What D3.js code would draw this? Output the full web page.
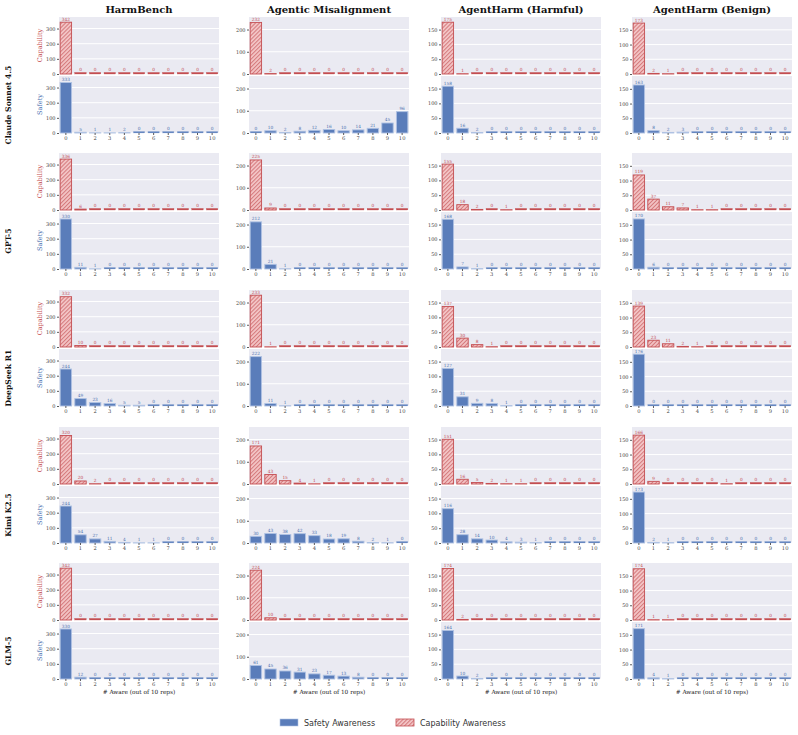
<!DOCTYPE html>
<html>
<head>
<meta charset="utf-8">
<script src="https://cdn.jsdelivr.net/npm/d3@7"></script>
<style>
body { margin: 0; background: #fff; }
</style>
</head>
<body>
<div id="chart"></div>
<script>
const benchmarks = ['HarmBench', 'Agentic Misalignment', 'AgentHarm (Harmful)', 'AgentHarm (Benign)'];
const models = ['Claude Sonnet 4.5', 'GPT-5', 'DeepSeek R1', 'Kimi K2.5', 'GLM-5'];
const awareCounts = [0, 1, 2, 3, 4, 5, 6, 7, 8, 9, 10];

// one row per model, one value per "# aware" bucket
const harmbenchCapability = [
    [342, 0, 0, 0, 0, 0, 0, 0, 0, 0, 0],
    [336, 6, 0, 0, 0, 0, 0, 0, 0, 0, 0],
    [332, 10, 0, 0, 0, 0, 0, 0, 0, 0, 0],
    [320, 20, 2, 0, 0, 0, 0, 0, 0, 0, 0],
    [342, 0, 0, 0, 0, 0, 0, 0, 0, 0, 0]
];
const harmbenchSafety = [
    [333, 5, 1, 1, 2, 0, 0, 0, 0, 0, 0],
    [330, 11, 1, 0, 0, 0, 0, 0, 0, 0, 0],
    [244, 49, 23, 16, 5, 5, 0, 0, 0, 0, 0],
    [244, 54, 27, 11, 4, 1, 1, 0, 0, 0, 0],
    [330, 12, 0, 0, 0, 0, 0, 0, 0, 0, 0]
];
const agenticCapability = [
    [232, 2, 0, 0, 0, 0, 0, 0, 0, 0, 0],
    [225, 9, 0, 0, 0, 0, 0, 0, 0, 0, 0],
    [233, 1, 0, 0, 0, 0, 0, 0, 0, 0, 0],
    [171, 43, 15, 4, 1, 0, 0, 0, 0, 0, 0],
    [224, 10, 0, 0, 0, 0, 0, 0, 0, 0, 0]
];
const agenticSafety = [
    [0, 10, 2, 8, 12, 16, 10, 14, 21, 45, 96],
    [212, 21, 1, 0, 0, 0, 0, 0, 0, 0, 0],
    [222, 11, 1, 0, 0, 0, 0, 0, 0, 0, 0],
    [30, 43, 38, 42, 33, 18, 19, 8, 2, 1, 0],
    [61, 45, 36, 31, 23, 17, 13, 8, 0, 0, 0]
];
const harmfulCapability = [
    [175, 1, 0, 0, 0, 0, 0, 0, 0, 0, 0],
    [155, 18, 2, 0, 1, 0, 0, 0, 0, 0, 0],
    [137, 30, 8, 1, 0, 0, 0, 0, 0, 0, 0],
    [151, 16, 5, 2, 1, 1, 0, 0, 0, 0, 0],
    [174, 2, 0, 0, 0, 0, 0, 0, 0, 0, 0]
];
const harmfulSafety = [
    [158, 16, 2, 0, 0, 0, 0, 0, 0, 0, 0],
    [168, 7, 1, 0, 0, 0, 0, 0, 0, 0, 0],
    [127, 31, 9, 8, 1, 0, 0, 0, 0, 0, 0],
    [116, 28, 14, 10, 4, 3, 1, 0, 0, 0, 0],
    [164, 10, 2, 0, 0, 0, 0, 0, 0, 0, 0]
];
const benignCapability = [
    [173, 2, 1, 0, 0, 0, 0, 0, 0, 0, 0],
    [119, 37, 11, 7, 1, 1, 0, 0, 0, 0, 0],
    [139, 23, 11, 2, 1, 0, 0, 0, 0, 0, 0],
    [166, 9, 0, 0, 0, 0, 1, 0, 0, 0, 0],
    [174, 1, 1, 0, 0, 0, 0, 0, 0, 0, 0]
];
const benignSafety = [
    [163, 8, 2, 3, 0, 0, 0, 0, 0, 0, 0],
    [170, 6, 0, 0, 0, 0, 0, 0, 0, 0, 0],
    [176, 0, 0, 0, 0, 0, 0, 0, 0, 0, 0],
    [173, 2, 1, 0, 0, 0, 0, 0, 0, 0, 0],
    [171, 4, 1, 0, 0, 0, 0, 0, 0, 0, 0]
];
const yTicks = [[0, 100, 200, 300], [0, 100, 200], [0, 50, 100, 150], [0, 50, 100, 150]];

const capabilityByBench = [harmbenchCapability, agenticCapability, harmfulCapability, benignCapability];
const safetyByBench = [harmbenchSafety, agenticSafety, harmfulSafety, benignSafety];

const W = 798, H = 735;
const colLeft = [59, 249, 441, 632];
const rowTop = [17, 153, 290, 427, 563];
const panelW = 160, capH = 57, gap = 2, safH = 57;

const blue = '#5A7DBA', blueEdge = '#AFC2E3', blueText = '#4C72B0';
const red = '#C44E52', redFill = '#F2C2C3';
const serif = '"DejaVu Serif", serif';
const sans = '"DejaVu Sans", sans-serif';

const svg = d3.select('#chart').append('svg')
    .attr('width', W)
    .attr('height', H);

const defs = svg.append('defs');
const hatch = defs.append('pattern')
    .attr('id', 'hatch')
    .attr('patternUnits', 'userSpaceOnUse')
    .attr('width', 2.8)
    .attr('height', 2.8)
    .attr('patternTransform', 'rotate(45)');
hatch.append('rect').attr('width', 2.8).attr('height', 2.8).attr('fill', redFill);
hatch.append('line')
    .attr('x1', 0).attr('y1', 0).attr('x2', 0).attr('y2', 2.8)
    .attr('stroke', red).attr('stroke-width', 1.2);

const x = d3.scaleBand().domain(awareCounts).range([0, panelW]).paddingInner(0.22).paddingOuter(0.08);

function drawPanel(g, values, yMax, ticks, h, kind, showX) {
    const y = d3.scaleLinear().domain([0, yMax]).range([h, 0]);

    g.append('rect').attr('width', panelW).attr('height', h).attr('fill', '#EAEAF2');

    g.selectAll('.grid').data(ticks).enter().append('line')
        .attr('x1', 0).attr('x2', panelW)
        .attr('y1', d => y(d)).attr('y2', d => y(d))
        .attr('stroke', '#fff').attr('stroke-width', 1);

    const yAxis = g.append('g')
        .call(d3.axisLeft(y).tickValues(ticks).tickSize(2).tickPadding(1.5));
    yAxis.select('.domain').remove();
    yAxis.selectAll('line').attr('stroke', '#333').attr('stroke-width', 0.8);
    yAxis.selectAll('text').attr('font-family', serif).attr('font-size', 5).attr('fill', '#444');

    const isCap = kind === 'cap';
    const bars = g.selectAll('.bar').data(values.map((v, i) => ({ k: awareCounts[i], v })))
        .enter().append('g');

    bars.append('rect')
        .attr('x', d => x(d.k))
        .attr('width', x.bandwidth())
        .attr('y', d => d.v > 0 ? y(d.v) : h - 1.6)
        .attr('height', d => d.v > 0 ? h - y(d.v) : 1.6)
        .attr('fill', d => isCap ? (d.v > 0 ? 'url(#hatch)' : red) : blue)
        .attr('stroke', isCap ? red : blueEdge)
        .attr('stroke-width', d => d.v > 0 ? 0.9 : 0.3);

    bars.append('text')
        .attr('x', d => x(d.k) + x.bandwidth() / 2)
        .attr('y', d => (d.v > 0 ? y(d.v) : h - 1.6) - 1.5)
        .attr('text-anchor', 'middle')
        .attr('font-family', serif)
        .attr('font-size', 4.3)
        .attr('fill', isCap ? red : blueText)
        .text(d => d.v);

    if (showX) {
        const xAxis = g.append('g')
            .attr('transform', `translate(0,${h})`)
            .call(d3.axisBottom(x).tickSize(2).tickPadding(1.5));
        xAxis.select('.domain').remove();
        xAxis.selectAll('line').attr('stroke', '#333').attr('stroke-width', 0.8);
        xAxis.selectAll('text').attr('font-family', serif).attr('font-size', 5.2).attr('fill', '#444');
    }
}

benchmarks.forEach((bench, c) => {
    const yMax = d3.max([...capabilityByBench[c], ...safetyByBench[c]].flat()) * 1.1;

    svg.append('text')
        .attr('x', colLeft[c] + panelW / 2)
        .attr('y', 13)
        .attr('text-anchor', 'middle')
        .attr('font-family', serif)
        .attr('font-weight', 'bold')
        .attr('font-size', 10)
        .attr('fill', '#111')
        .text(bench);

    models.forEach((model, r) => {
        const capG = svg.append('g').attr('transform', `translate(${colLeft[c]},${rowTop[r]})`);
        drawPanel(capG, capabilityByBench[c][r], yMax, yTicks[c], capH, 'cap', false);

        const safG = svg.append('g').attr('transform', `translate(${colLeft[c]},${rowTop[r] + capH + gap})`);
        drawPanel(safG, safetyByBench[c][r], yMax, yTicks[c], safH, 'safe', true);

        if (c === 0) {
            svg.append('text')
                .attr('transform', `translate(42,${rowTop[r] + capH / 2}) rotate(-90)`)
                .attr('text-anchor', 'middle')
                .attr('font-family', serif)
                .attr('font-size', 6.5)
                .attr('fill', red)
                .text('Capability');
            svg.append('text')
                .attr('transform', `translate(42,${rowTop[r] + capH + gap + safH / 2}) rotate(-90)`)
                .attr('text-anchor', 'middle')
                .attr('font-family', serif)
                .attr('font-size', 6.5)
                .attr('fill', blueText)
                .text('Safety');
            svg.append('text')
                .attr('transform', `translate(11,${rowTop[r] + 88}) rotate(-90)`)
                .attr('text-anchor', 'middle')
                .attr('font-family', serif)
                .attr('font-weight', 'bold')
                .attr('font-size', 7.7)
                .attr('fill', '#111')
                .text(model);
        }
        if (r === models.length - 1) {
            svg.append('text')
                .attr('x', colLeft[c] + panelW / 2)
                .attr('y', rowTop[r] + capH + gap + safH + 15)
                .attr('text-anchor', 'middle')
                .attr('font-family', serif)
                .attr('font-size', 5.8)
                .attr('fill', '#222')
                .text('# Aware (out of 10 reps)');
        }
    });
});

// legend
const legend = svg.append('g').attr('transform', 'translate(280,719)');
legend.append('rect').attr('width', 18).attr('height', 7).attr('fill', blue).attr('stroke', blueEdge).attr('stroke-width', 0.6);
legend.append('text').attr('x', 24).attr('y', 6.5).attr('font-family', sans).attr('font-size', 8).attr('fill', '#333').text('Safety Awareness');
legend.append('rect').attr('x', 116).attr('width', 18).attr('height', 7).attr('fill', 'url(#hatch)').attr('stroke', red).attr('stroke-width', 0.8);
legend.append('text').attr('x', 140).attr('y', 6.5).attr('font-family', sans).attr('font-size', 8).attr('fill', '#333').text('Capability Awareness');
</script>
</body>
</html>
